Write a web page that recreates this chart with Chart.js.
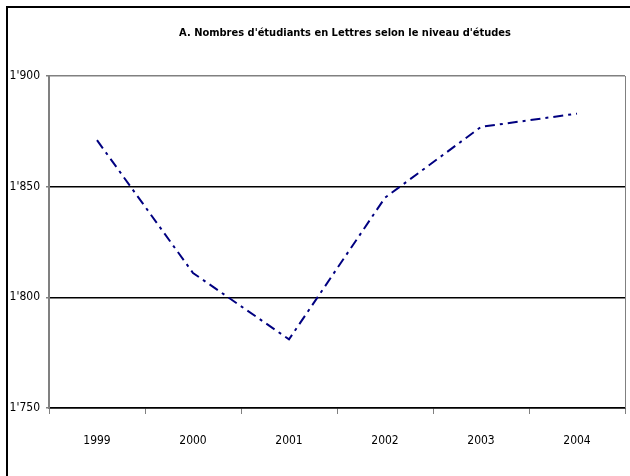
<!DOCTYPE html>
<html>
<head>
<meta charset="utf-8">
<script src="https://cdn.jsdelivr.net/npm/chart.js@4"></script>
<style>
    html, body { margin: 0; padding: 0; background: #fff; }
    #wrap { width: 630px; height: 476px; position: relative; }
</style>
</head>
<body>
<div id="wrap"><canvas id="chart"></canvas></div>
<script>
// ===================================
// DATA
// ===================================

const years = ['1999', '2000', '2001', '2002', '2003', '2004'];
const students = [1871, 1811, 1781, 1845, 1877, 1883];
const yTicks = [1750, 1800, 1850, 1900];
const titleText = "A. Nombres d'étudiants en Lettres selon le niveau d'études";

const fontFamily = "'DejaVu Sans Condensed', 'Liberation Sans Narrow', sans-serif";

// Swiss style thousands separator: 1'900
function formatTick(v) {
    const s = String(v);
    return s.length > 3 ? s.slice(0, -3) + "'" + s.slice(-3) : s;
}

// outer frame, gray right edge of the plot, and the title
// (title drawn here so it sits a bit right of centre like the original)
const framePlugin = {
    id: 'frame',
    afterDraw(chart) {
        const ctx = chart.ctx;
        const a = chart.chartArea;
        ctx.save();
        ctx.strokeStyle = '#808080';
        ctx.lineWidth = 1;
        ctx.beginPath();
        ctx.moveTo(a.right + 0.5, a.top);
        ctx.lineTo(a.right + 0.5, a.bottom);
        ctx.stroke();
        ctx.strokeStyle = '#000';
        ctx.lineWidth = 2;
        ctx.beginPath();
        ctx.moveTo(7, 480);
        ctx.lineTo(7, 7);
        ctx.lineTo(640, 7);
        ctx.stroke();

        ctx.fillStyle = '#000';
        ctx.font = 'bold 11px ' + fontFamily;
        ctx.textAlign = 'center';
        ctx.textBaseline = 'middle';
        ctx.fillText(titleText, 345, 33);
        ctx.restore();
    }
};

new Chart(document.getElementById('chart').getContext('2d'), {
    type: 'line',
    data: {
        labels: years,
        datasets: [{
            data: students,
            borderColor: '#000080',
            borderWidth: 2,
            borderDash: [10, 5, 3, 5],
            pointRadius: 0,
            tension: 0,
            fill: false
        }]
    },
    options: {
        responsive: true,
        maintainAspectRatio: false,
        animation: false,
        layout: { padding: { top: 76, left: 0, right: 5, bottom: 0 } },
        plugins: {
            legend: { display: false },
            tooltip: { enabled: false },
            title: { display: false }
        },
        scales: {
            x: {
                offset: true,
                grid: {
                    offset: true,
                    drawOnChartArea: false,
                    drawTicks: true,
                    tickLength: 6,
                    tickColor: '#808080'
                },
                border: { color: '#000', width: 1.5 },
                ticks: {
                    color: '#000',
                    padding: 20,
                    font: { family: fontFamily, size: 12 }
                },
                afterFit(scale) { scale.height = 68; }
            },
            y: {
                min: 1750,
                max: 1900,
                afterBuildTicks(scale) {
                    scale.ticks = yTicks.map(v => ({ value: v }));
                },
                grid: {
                    color: ctx => ctx.tick && ctx.tick.value === 1900 ? '#808080' : '#000',
                    lineWidth: 1.5,
                    tickLength: 3,
                    tickColor: '#808080'
                },
                border: { color: '#808080', width: 2 },
                ticks: {
                    color: '#000',
                    padding: 6,
                    font: { family: fontFamily, size: 12 },
                    callback: v => formatTick(v)
                },
                afterFit(scale) { scale.width = 49; }
            }
        }
    },
    plugins: [framePlugin]
});
</script>
</body>
</html>
